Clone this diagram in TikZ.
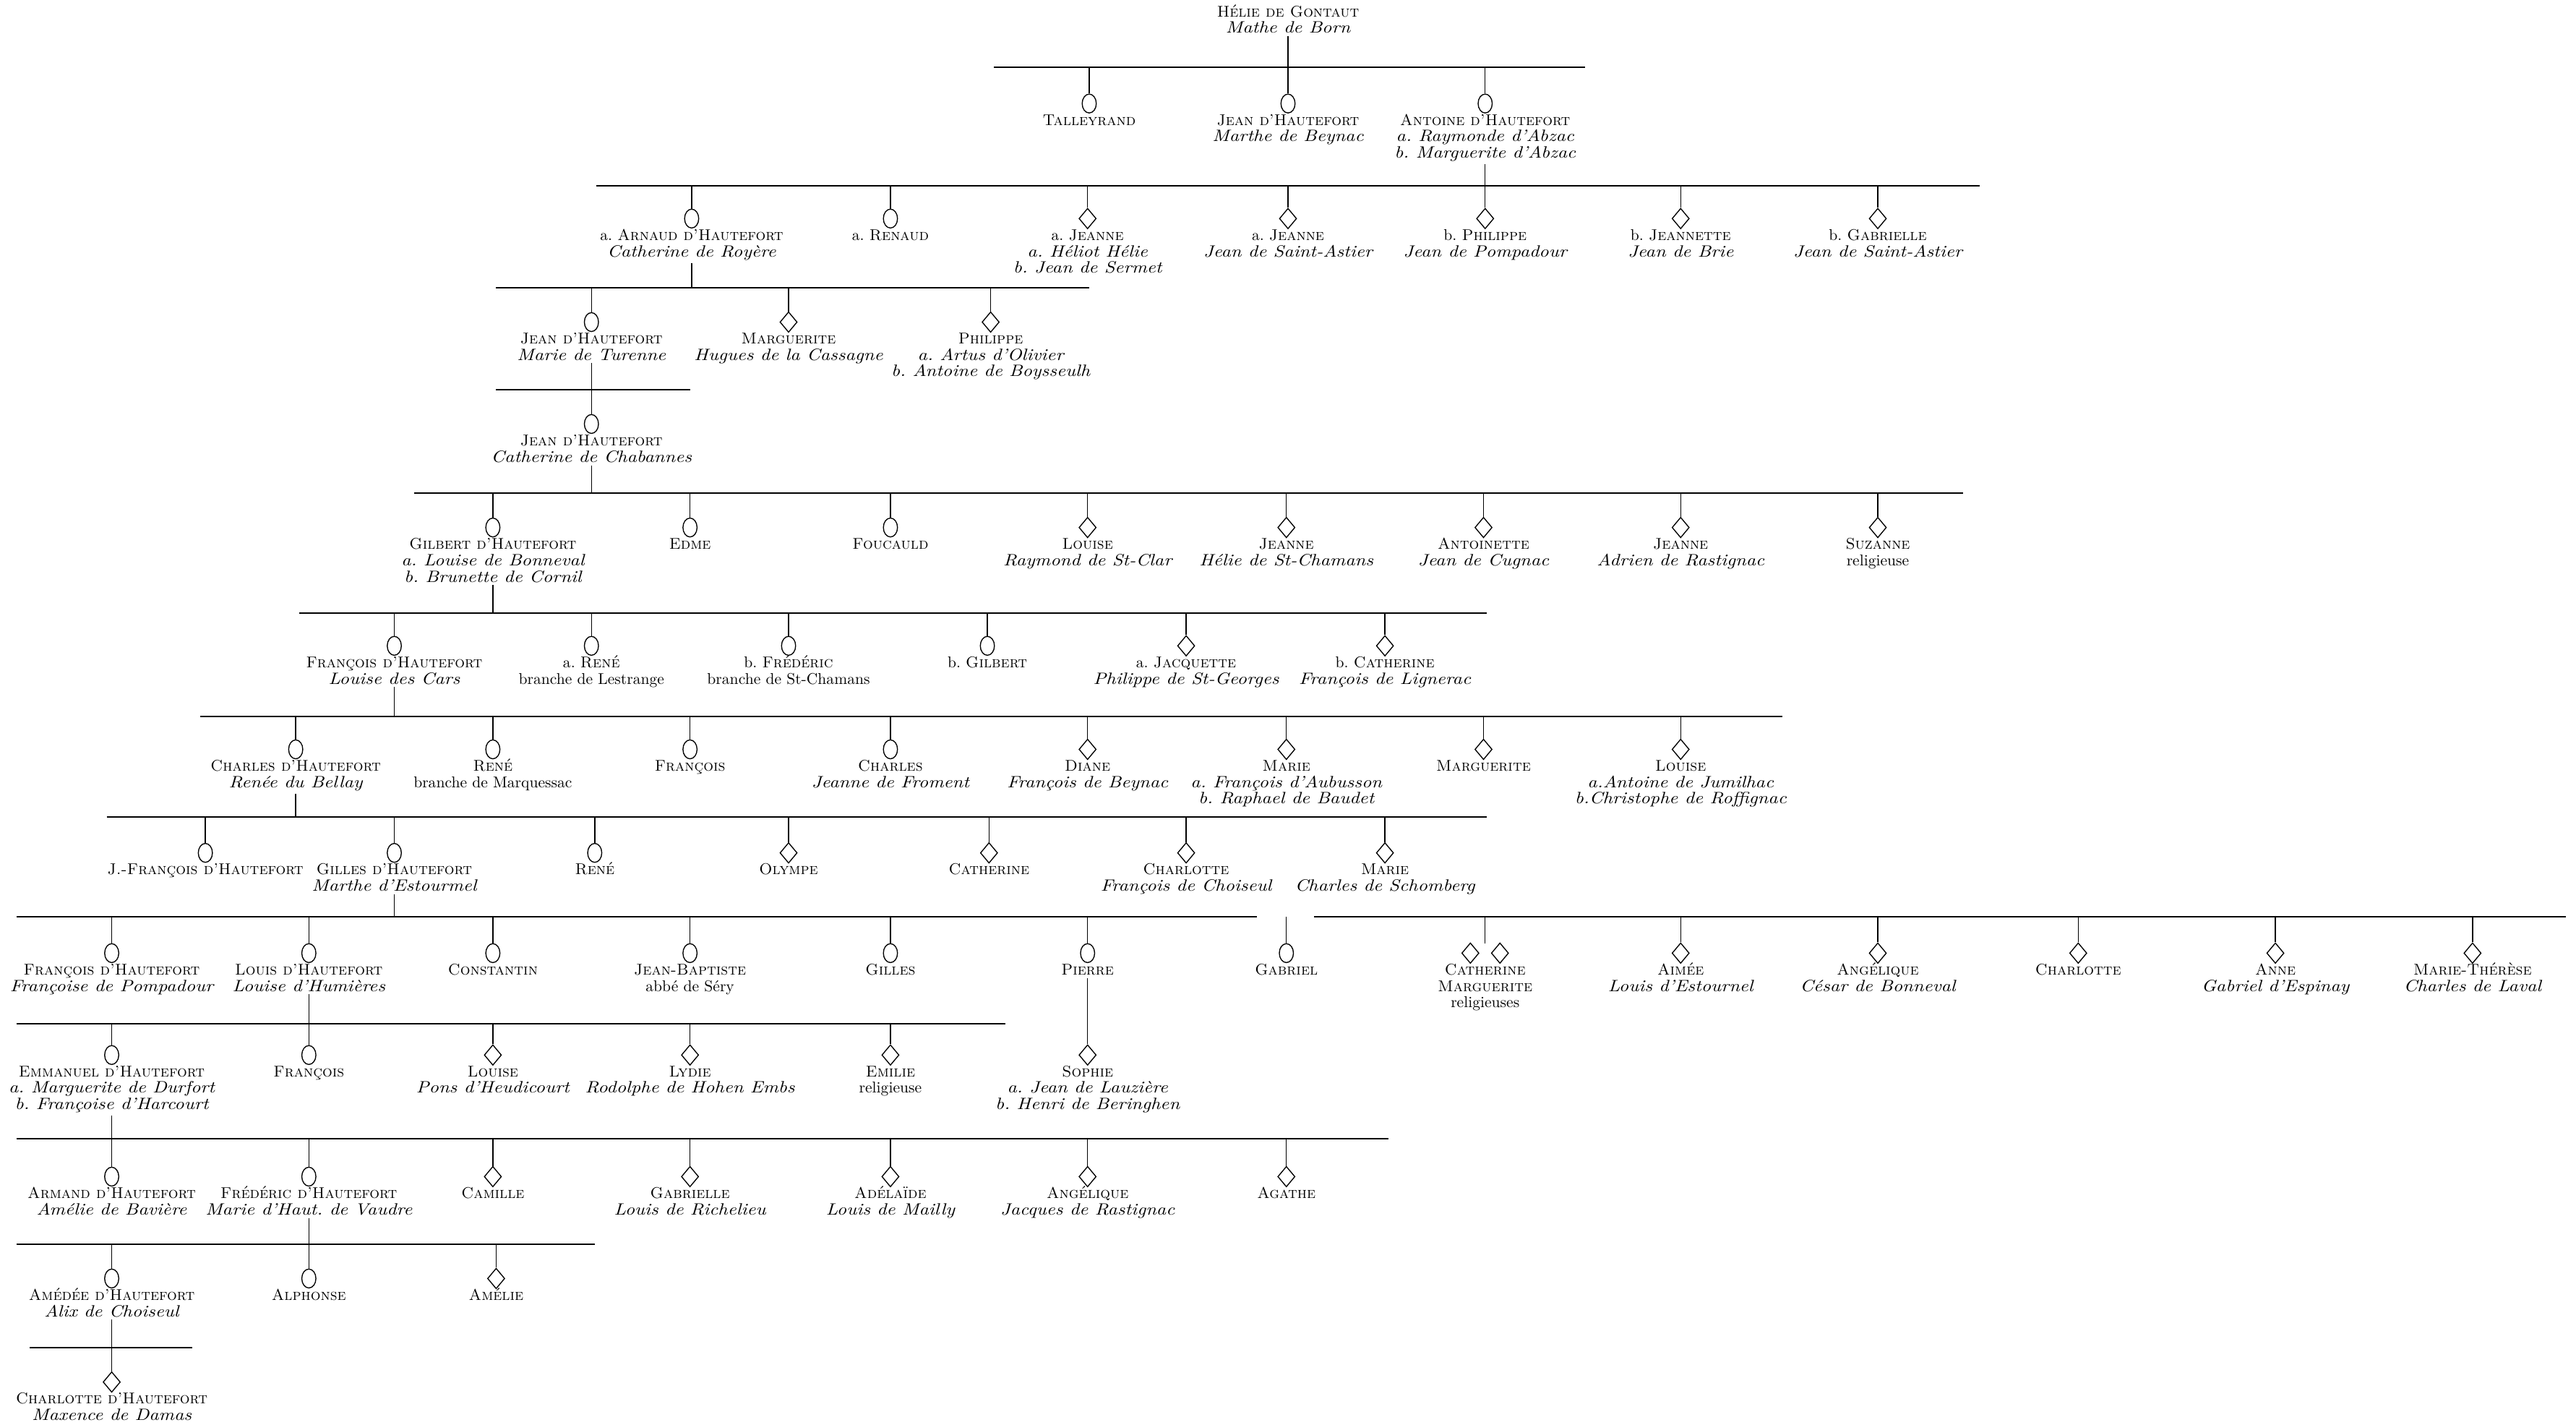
\documentclass[tikz,border=0pt]{standalone}
\usepackage{graphicx}
\usetikzlibrary{shapes.geometric}
\frenchspacing
\newcommand\spo[1]{{\fontsize{10}{10}\selectfont\itshape\scalebox{1.15}[1]{#1}}}
\newcommand\pers[5]{%
  \node[#4] (#1) at (#2,#3) {};
  \node[lbl, yshift=-5pt] (#1T) at (#2,#3) {\rule{0pt}{8pt}#5};
}
\newcommand\kid[2]{\draw[lk] (#1.north) -- (#1.north |- #2);}
\newcommand\pline[2]{\draw[lk] ([yshift=-1.5pt]#1T.south) -- (#1T.south |- #2);}
\newcommand\famline[4]{%
  \coordinate (#1a) at (#2,#4); \coordinate (#1b) at (#3,#4);
  \draw[ln] (#1a) -- (#1b);}
\tikzset{
  male/.style={draw, ellipse, minimum width=8.6pt, minimum height=11.5pt, inner sep=0pt, line width=0.6pt},
  fem/.style={draw, diamond, minimum width=10.5pt, minimum height=12.5pt, inner sep=0pt, line width=0.6pt},
  lbl/.style={align=center, anchor=north, inner sep=0pt, font=\fontsize{9.5}{10}\selectfont\frenchspacing},
  ln/.style={line width=0.8pt},
  lk/.style={line width=0.6pt}
}
\begin{document}
\begin{tikzpicture}[x=1pt,y=-1pt]
\fill[white] (0,0) rectangle (1568,867);
\useasboundingbox (0,0) rectangle (1568,867);

% Row 0
\node[lbl] (helieT) at (784,2) {\rule{0pt}{8pt}\textsc{Hélie de Gontaut}\\\spo{Mathe de Born}};

% horizontal family lines
\famline{L1}{605}{965}{41}
\famline{L2}{363}{1205}{113}
\famline{L3}{302}{663}{175}
\famline{L4}{302}{420}{237}
\famline{L5}{252}{1195}{300}
\famline{L6}{182}{905}{373}
\famline{L7}{122}{1085}{436}
\famline{L8}{65}{905}{497}
\famline{L9}{10}{765}{558}
\famline{L9r}{800}{1562}{558}
\famline{L10}{10}{612}{623}
\famline{L11}{10}{845}{693}
\famline{L12}{10}{362}{757}
\famline{L13}{18}{117}{820}

% Row 1
\pers{tal}{663}{63}{male}{\textsc{Talleyrand}}
\pers{jeanA}{784}{63}{male}{\textsc{Jean d'Hautefort}\\\spo{Marthe de Beynac}}
\pers{ant}{904}{63}{male}{\textsc{Antoine d'Hautefort}\\\spo{a. Raymonde d'Abzac}\\\spo{b. Marguerite d'Abzac}}

% Row 2
\pers{arn}{421}{133}{male}{a. \textsc{Arnaud d'Hautefort}\\\spo{Catherine de Royère}}
\pers{ren}{542}{133}{male}{a. \textsc{Renaud}}
\pers{jeaB}{662}{133}{fem}{a. \textsc{Jeanne}\\\spo{a. Héliot Hélie}\\\spo{b. Jean de Sermet}}
\pers{jeaC}{784}{133}{fem}{a. \textsc{Jeanne}\\\spo{Jean de Saint-Astier}}
\pers{phiB}{904}{133}{fem}{b. \textsc{Philippe}\\\spo{Jean de Pompadour}}
\pers{jtt}{1023}{133}{fem}{b. \textsc{Jeannette}\\\spo{Jean de Brie}}
\pers{gabB}{1143}{133}{fem}{b. \textsc{Gabrielle}\\\spo{Jean de Saint-Astier}}

% Row 3
\pers{jeanC}{360}{196}{male}{\textsc{Jean d'Hautefort}\\\spo{Marie de Turenne}}
\pers{marC}{480}{196}{fem}{\textsc{Marguerite}\\\spo{Hugues de la Cassagne}}
\pers{phiC}{603}{196}{fem}{\textsc{Philippe}\\\spo{a. Artus d'Olivier}\\\spo{b. Antoine de Boysseulh}}

% Row 4
\pers{jeanD}{360}{258}{male}{\textsc{Jean d'Hautefort}\\\spo{Catherine de Chabannes}}

% Row 5
\pers{gilE}{300}{321}{male}{\textsc{Gilbert d'Hautefort}\\\spo{a. Louise de Bonneval}\\\spo{b. Brunette de Cornil}}
\pers{edm}{420}{321}{male}{\textsc{Edme}}
\pers{fou}{542}{321}{male}{\textsc{Foucauld}}
\pers{louE}{662}{321}{fem}{\textsc{Louise}\\\spo{Raymond de St-Clar}}
\pers{jeaE}{783}{321}{fem}{\textsc{Jeanne}\\\spo{Hélie de St-Chamans}}
\pers{atn}{903}{321}{fem}{\textsc{Antoinette}\\\spo{Jean de Cugnac}}
\pers{jeaF}{1023}{321}{fem}{\textsc{Jeanne}\\\spo{Adrien de Rastignac}}
\pers{suz}{1143}{321}{fem}{\textsc{Suzanne}\\religieuse}

% Row 6
\pers{fraF}{240}{393}{male}{\textsc{François d'Hautefort}\\\spo{Louise des Cars}}
\pers{renF}{360}{393}{male}{a. \textsc{René}\\branche de Lestrange}
\pers{freF}{480}{393}{male}{b. \textsc{Frédéric}\\branche de St-Chamans}
\pers{gilF}{601}{393}{male}{b. \textsc{Gilbert}}
\pers{jacF}{722}{393}{fem}{a. \textsc{Jacquette}\\\spo{Philippe de St-Georges}}
\pers{catF}{843}{393}{fem}{b. \textsc{Catherine}\\\spo{François de Lignerac}}

% Row 7
\pers{chaG}{180}{456}{male}{\textsc{Charles d'Hautefort}\\\spo{Renée du Bellay}}
\pers{renG}{300}{456}{male}{\textsc{René}\\branche de Marquessac}
\pers{fraG}{420}{456}{male}{\textsc{François}}
\pers{chbG}{542}{456}{male}{\textsc{Charles}\\\spo{Jeanne de Froment}}
\pers{diaG}{662}{456}{fem}{\textsc{Diane}\\\spo{François de Beynac}}
\pers{marG}{783}{456}{fem}{\textsc{Marie}\\\spo{a. François d'Aubusson}\\\spo{b. Raphael de Baudet}}
\pers{magG}{903}{456}{fem}{\textsc{Marguerite}}
\pers{louG}{1023}{456}{fem}{\textsc{Louise}\\\spo{a.Antoine de Jumilhac}\\\spo{b.Christophe de Roffignac}}

% Row 8
\pers{jfrH}{125}{519}{male}{\textsc{J.-François d'Hautefort}}
\pers{gilH}{240}{519}{male}{\textsc{Gilles d'Hautefort}\\\spo{Marthe d'Estourmel}}
\pers{renH}{362}{519}{male}{\textsc{René}}
\pers{olyH}{480}{519}{fem}{\textsc{Olympe}}
\pers{catH}{602}{519}{fem}{\textsc{Catherine}}
\pers{chlH}{722}{519}{fem}{\textsc{Charlotte}\\\spo{François de Choiseul}}
\pers{marH}{843}{519}{fem}{\textsc{Marie}\\\spo{Charles de Schomberg}}

% Row 9
\pers{fraI}{68}{580}{male}{\textsc{François d'Hautefort}\\\spo{Françoise de Pompadour}}
\pers{louI}{188}{580}{male}{\textsc{Louis d'Hautefort}\\\spo{Louise d'Humières}}
\pers{conI}{300}{580}{male}{\textsc{Constantin}}
\pers{jbtI}{420}{580}{male}{\textsc{Jean-Baptiste}\\abbé de Séry}
\pers{gilI}{542}{580}{male}{\textsc{Gilles}}
\pers{pieI}{662}{580}{male}{\textsc{Pierre}}
\pers{gabI}{783}{580}{male}{\textsc{Gabriel}}
\node[fem] (cmIa) at (895,580) {};
\node[fem] (cmIb) at (913,580) {};
\coordinate (cmItop) at (904,574);
\node[lbl, yshift=-5pt] (cmIT) at (904,580) {\rule{0pt}{8pt}\textsc{Catherine}\\\textsc{Marguerite}\\religieuses};
\pers{aimI}{1023}{580}{fem}{\textsc{Aimée}\\\spo{Louis d'Estournel}}
\pers{angI}{1143}{580}{fem}{\textsc{Angélique}\\\spo{César de Bonneval}}
\pers{chlI}{1265}{580}{fem}{\textsc{Charlotte}}
\pers{annI}{1385}{580}{fem}{\textsc{Anne}\\\spo{Gabriel d'Espinay}}
\pers{mthI}{1505}{580}{fem}{\textsc{Marie-Thérèse}\\\spo{Charles de Laval}}

% Row 10
\pers{emmJ}{68}{642}{male}{\textsc{Emmanuel d'Hautefort}\\\spo{a. Marguerite de Durfort}\\\spo{b. Françoise d'Harcourt}}
\pers{fraJ}{188}{642}{male}{\textsc{François}}
\pers{louJ}{300}{642}{fem}{\textsc{Louise}\\\spo{Pons d'Heudicourt}}
\pers{lydJ}{420}{642}{fem}{\textsc{Lydie}\\\spo{Rodolphe de Hohen Embs}}
\pers{emiJ}{542}{642}{fem}{\textsc{Emilie}\\religieuse}
\pers{sopJ}{662}{642}{fem}{\textsc{Sophie}\\\spo{a. Jean de Lauzière}\\\spo{b. Henri de Beringhen}}

% Row 11
\pers{armK}{68}{716}{male}{\textsc{Armand d'Hautefort}\\\spo{Amélie de Bavière}}
\pers{freK}{188}{716}{male}{\textsc{Frédéric d'Hautefort}\\\spo{Marie d'Haut. de Vaudre}}
\pers{camK}{300}{716}{fem}{\textsc{Camille}}
\pers{gabK}{420}{716}{fem}{\textsc{Gabrielle}\\\spo{Louis de Richelieu}}
\pers{adeK}{542}{716}{fem}{\textsc{Adélaïde}\\\spo{Louis de Mailly}}
\pers{angK}{662}{716}{fem}{\textsc{Angélique}\\\spo{Jacques de Rastignac}}
\pers{agaK}{783}{716}{fem}{\textsc{Agathe}}

% Row 12
\pers{ameL}{68}{778}{male}{\textsc{Amédée d'Hautefort}\\\spo{Alix de Choiseul}}
\pers{alpL}{188}{778}{male}{\textsc{Alphonse}}
\pers{amlL}{302}{778}{fem}{\textsc{Amélie}}

% Row 13
\pers{chlM}{68}{841}{fem}{\textsc{Charlotte d'Hautefort}\\\spo{Maxence de Damas}}

% parent links
\draw[lk] ([yshift=-1.5pt]helieT.south) -- (helieT.south |- L1a);
\pline{ant}{L2a}
\pline{arn}{L3a}
\pline{jeanC}{L4a}
\pline{jeanD}{L5a}
\pline{gilE}{L6a}
\pline{fraF}{L7a}
\pline{chaG}{L8a}
\pline{gilH}{L9a}
\pline{louI}{L10a}
\draw[lk] ([yshift=-1.5pt]pieIT.south) -- (sopJ.north);
\pline{emmJ}{L11a}
\pline{freK}{L12a}
\pline{ameL}{L13a}

% child links
\kid{tal}{L1a} \kid{jeanA}{L1a} \kid{ant}{L1a}
\kid{arn}{L2a} \kid{ren}{L2a} \kid{jeaB}{L2a} \kid{jeaC}{L2a} \kid{phiB}{L2a} \kid{jtt}{L2a} \kid{gabB}{L2a}
\kid{jeanC}{L3a} \kid{marC}{L3a} \kid{phiC}{L3a}
\kid{jeanD}{L4a}
\kid{gilE}{L5a} \kid{edm}{L5a} \kid{fou}{L5a} \kid{louE}{L5a} \kid{jeaE}{L5a} \kid{atn}{L5a} \kid{jeaF}{L5a} \kid{suz}{L5a}
\kid{fraF}{L6a} \kid{renF}{L6a} \kid{freF}{L6a} \kid{gilF}{L6a} \kid{jacF}{L6a} \kid{catF}{L6a}
\kid{chaG}{L7a} \kid{renG}{L7a} \kid{fraG}{L7a} \kid{chbG}{L7a} \kid{diaG}{L7a} \kid{marG}{L7a} \kid{magG}{L7a} \kid{louG}{L7a}
\kid{jfrH}{L8a} \kid{gilH}{L8a} \kid{renH}{L8a} \kid{olyH}{L8a} \kid{catH}{L8a} \kid{chlH}{L8a} \kid{marH}{L8a}
\kid{fraI}{L9a} \kid{louI}{L9a} \kid{conI}{L9a} \kid{jbtI}{L9a} \kid{gilI}{L9a} \kid{pieI}{L9a} \kid{gabI}{L9a}
\draw[lk] (cmItop) -- (cmItop |- L9ra);
\kid{aimI}{L9ra} \kid{angI}{L9ra} \kid{chlI}{L9ra} \kid{annI}{L9ra} \kid{mthI}{L9ra}
\kid{emmJ}{L10a} \kid{fraJ}{L10a} \kid{louJ}{L10a} \kid{lydJ}{L10a} \kid{emiJ}{L10a}
\kid{armK}{L11a} \kid{freK}{L11a} \kid{camK}{L11a} \kid{gabK}{L11a} \kid{adeK}{L11a} \kid{angK}{L11a} \kid{agaK}{L11a}
\kid{ameL}{L12a} \kid{alpL}{L12a} \kid{amlL}{L12a}
\kid{chlM}{L13a}
\end{tikzpicture}
\end{document}
